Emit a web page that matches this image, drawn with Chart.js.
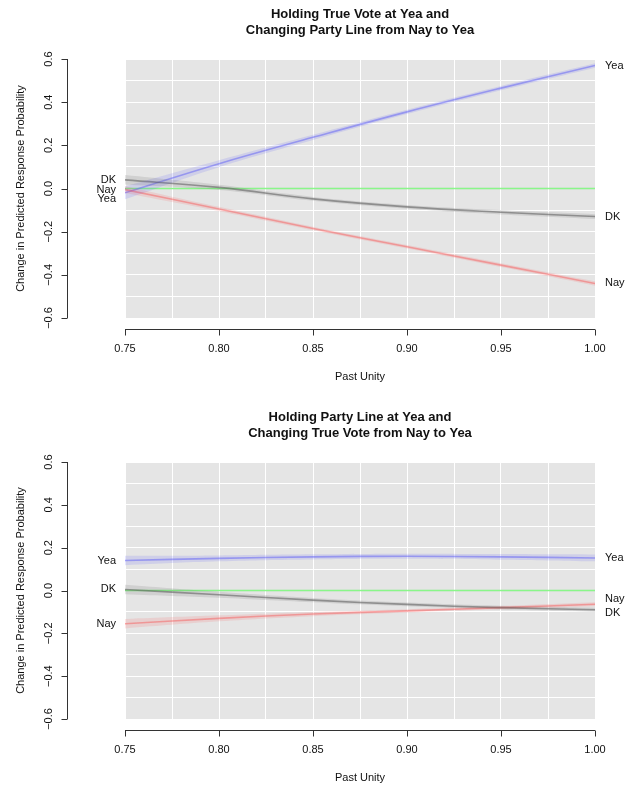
<!DOCTYPE html>
<html>
<head>
<meta charset="utf-8">
<script src="https://cdn.jsdelivr.net/npm/chart.js@4.4.0/dist/chart.umd.min.js"></script>
<style>
body { margin: 0; background: #fff; }
canvas { display: block; }
</style>
</head>
<body>
<canvas id="topChart" width="625" height="393"></canvas>
<canvas id="bottomChart" width="625" height="394"></canvas>
<script>
// x values + axis ticks
let pastUnity = [0.75, 0.80, 0.85, 0.90, 0.95, 1.00];
let xTicks = [0.75, 0.80, 0.85, 0.90, 0.95, 1.00];
let yTicks = [-0.6, -0.4, -0.2, 0.0, 0.2, 0.4, 0.6];
let noChange = [0, 0, 0, 0, 0, 0];

// top panel: true vote at yea, party line nay -> yea
let topYea = [-0.02, 0.115, 0.237, 0.355, 0.465, 0.57];
let topYeaSe = [0.03, 0.016, 0.012, 0.010, 0.010, 0.010];
let topNay = [-0.005, -0.095, -0.185, -0.27, -0.355, -0.44];
let topNaySe = [0.016, 0.010, 0.008, 0.008, 0.009, 0.010];
let topDK = [0.04, 0.005, -0.048, -0.085, -0.11, -0.13];
let topDKSe = [0.022, 0.012, 0.009, 0.009, 0.010, 0.011];

// bottom panel: party line at yea, true vote nay -> yea
let botYea = [0.14, 0.15, 0.157, 0.16, 0.157, 0.152];
let botYeaSe = [0.022, 0.014, 0.012, 0.012, 0.013, 0.016];
let botNay = [-0.155, -0.13, -0.11, -0.095, -0.08, -0.064];
let botNaySe = [0.022, 0.014, 0.010, 0.008, 0.008, 0.009];
let botDK = [0.005, -0.02, -0.045, -0.065, -0.08, -0.09];
let botDKSe = [0.022, 0.014, 0.010, 0.009, 0.009, 0.010];

const colors = {
    Yea: { line: 'rgba(100,100,245,0.5)', band: 'rgba(60,60,255,0.13)' },
    Nay: { line: 'rgba(245,100,100,0.5)', band: 'rgba(255,60,60,0.13)' },
    DK: { line: 'rgba(100,100,100,0.6)', band: 'rgba(90,90,90,0.15)' },
    zero: { line: 'rgba(60,240,60,0.6)' }
};

function pts(arr) {
    return pastUnity.map((x, i) => ({ x: x, y: arr[i] }));
}

function bandSets(mean, se, c) {
    let hi = mean.map((m, i) => m + se[i]);
    let lo = mean.map((m, i) => m - se[i]);
    return [
        { data: pts(hi), borderWidth: 0, pointRadius: 0, fill: false, tension: 0.4 },
        { data: pts(lo), borderWidth: 0, pointRadius: 0, fill: '-1', backgroundColor: c.band, tension: 0.4 }
    ];
}

function lineSet(mean, color) {
    return { data: pts(mean), borderColor: color, borderWidth: 1.6, pointRadius: 0, fill: false, tension: 0.4 };
}

const rPlot = {
    id: 'rPlot',
    beforeDraw(chart) {
        let a = chart.chartArea, ctx = chart.ctx;
        ctx.save();
        ctx.fillStyle = '#e5e5e5';
        ctx.fillRect(a.left, a.top, a.right - a.left, a.bottom - a.top);
        ctx.restore();
    },
    afterDraw(chart, args, opts) {
        let ctx = chart.ctx, a = chart.chartArea;
        let xs = chart.scales.x, ys = chart.scales.y;
        ctx.save();
        ctx.strokeStyle = '#333';
        ctx.fillStyle = '#111';
        ctx.lineWidth = 1;
        ctx.font = '11px "Liberation Sans", Arial, sans-serif';

        // x axis
        let axY = Math.round(a.bottom + 11) + 0.5;
        ctx.beginPath();
        ctx.moveTo(xs.getPixelForValue(xTicks[0]), axY);
        ctx.lineTo(xs.getPixelForValue(xTicks[xTicks.length - 1]), axY);
        xTicks.forEach(t => {
            let px = Math.round(xs.getPixelForValue(t)) + 0.5;
            ctx.moveTo(px, axY);
            ctx.lineTo(px, axY + 6);
        });
        ctx.stroke();
        ctx.textAlign = 'center';
        ctx.textBaseline = 'middle';
        xTicks.forEach(t => {
            ctx.fillText(t.toFixed(2), xs.getPixelForValue(t), axY + 19);
        });
        ctx.fillText('Past Unity', (a.left + a.right) / 2, axY + 47);

        // y axis
        let axX = Math.round(a.left - 58) + 0.5;
        ctx.beginPath();
        ctx.moveTo(axX, ys.getPixelForValue(yTicks[0]));
        ctx.lineTo(axX, ys.getPixelForValue(yTicks[yTicks.length - 1]));
        yTicks.forEach(t => {
            let py = Math.round(ys.getPixelForValue(t)) + 0.5;
            ctx.moveTo(axX, py);
            ctx.lineTo(axX - 6, py);
        });
        ctx.stroke();
        yTicks.forEach(t => {
            ctx.save();
            ctx.translate(axX - 19, ys.getPixelForValue(t));
            ctx.rotate(-Math.PI / 2);
            ctx.fillText(t.toFixed(1).replace('-', '\u2212'), 0, 0);
            ctx.restore();
        });
        ctx.save();
        ctx.translate(axX - 47, (a.top + a.bottom) / 2);
        ctx.rotate(-Math.PI / 2);
        ctx.fillText('Change in Predicted Response Probability', 0, 0);
        ctx.restore();

        // series labels at both ends
        ctx.textAlign = 'right';
        opts.left.forEach(l => {
            ctx.fillText(l.text, a.left - 9, ys.getPixelForValue(l.value) + (l.nudge || 0));
        });
        ctx.textAlign = 'left';
        opts.right.forEach(l => {
            ctx.fillText(l.text, a.right + 10, ys.getPixelForValue(l.value) + (l.nudge || 0));
        });

        // title
        ctx.font = 'bold 13px "Liberation Sans", Arial, sans-serif';
        ctx.textAlign = 'center';
        opts.title.forEach((line, i) => {
            ctx.fillText(line, (a.left + a.right) / 2, a.top - 45 + i * 16);
        });
        ctx.restore();
    }
};

function makeChart(id, yea, yeaSe, nay, naySe, dk, dkSe, pad, title, nudges) {
    let datasets = [].concat(
        bandSets(dk, dkSe, colors.DK),
        bandSets(nay, naySe, colors.Nay),
        bandSets(yea, yeaSe, colors.Yea),
        [lineSet(dk, colors.DK.line), lineSet(nay, colors.Nay.line), lineSet(yea, colors.Yea.line), lineSet(noChange, colors.zero.line)]
    );
    let last = pastUnity.length - 1;
    return new Chart(document.getElementById(id), {
        type: 'line',
        data: { datasets: datasets },
        options: {
            responsive: false,
            animation: false,
            layout: { padding: pad },
            plugins: {
                legend: { display: false },
                tooltip: { enabled: false },
                rPlot: {
                    title: title,
                    left: [
                        { text: 'Yea', value: yea[0], nudge: nudges.leftYea },
                        { text: 'Nay', value: nay[0], nudge: nudges.leftNay },
                        { text: 'DK', value: dk[0], nudge: nudges.leftDK }
                    ],
                    right: [
                        { text: 'Yea', value: yea[last], nudge: nudges.rightYea },
                        { text: 'Nay', value: nay[last], nudge: nudges.rightNay },
                        { text: 'DK', value: dk[last], nudge: nudges.rightDK }
                    ]
                }
            },
            scales: {
                x: {
                    type: 'linear', min: 0.75, max: 1.0,
                    ticks: { display: false, stepSize: 0.025 },
                    grid: { color: '#ffffff', lineWidth: 1, drawTicks: false },
                    border: { display: false }
                },
                y: {
                    min: -0.6, max: 0.6,
                    ticks: { display: false, stepSize: 0.1 },
                    grid: { color: '#ffffff', lineWidth: 1, drawTicks: false },
                    border: { display: false }
                }
            }
        },
        plugins: [rPlot]
    });
}

makeChart('topChart', topYea, topYeaSe, topNay, topNaySe, topDK, topDKSe,
    { left: 125, right: 30, top: 59, bottom: 75 },
    ['Holding True Vote at Yea and', 'Changing Party Line from Nay to Yea'],
    { leftYea: 6, leftNay: 0, leftDK: 0 });

makeChart('bottomChart', botYea, botYeaSe, botNay, botNaySe, botDK, botDKSe,
    { left: 125, right: 30, top: 69, bottom: 68 },
    ['Holding Party Line at Yea and', 'Changing True Vote from Nay to Yea'],
    { rightNay: -5, rightDK: 3 });
</script>
</body>
</html>
